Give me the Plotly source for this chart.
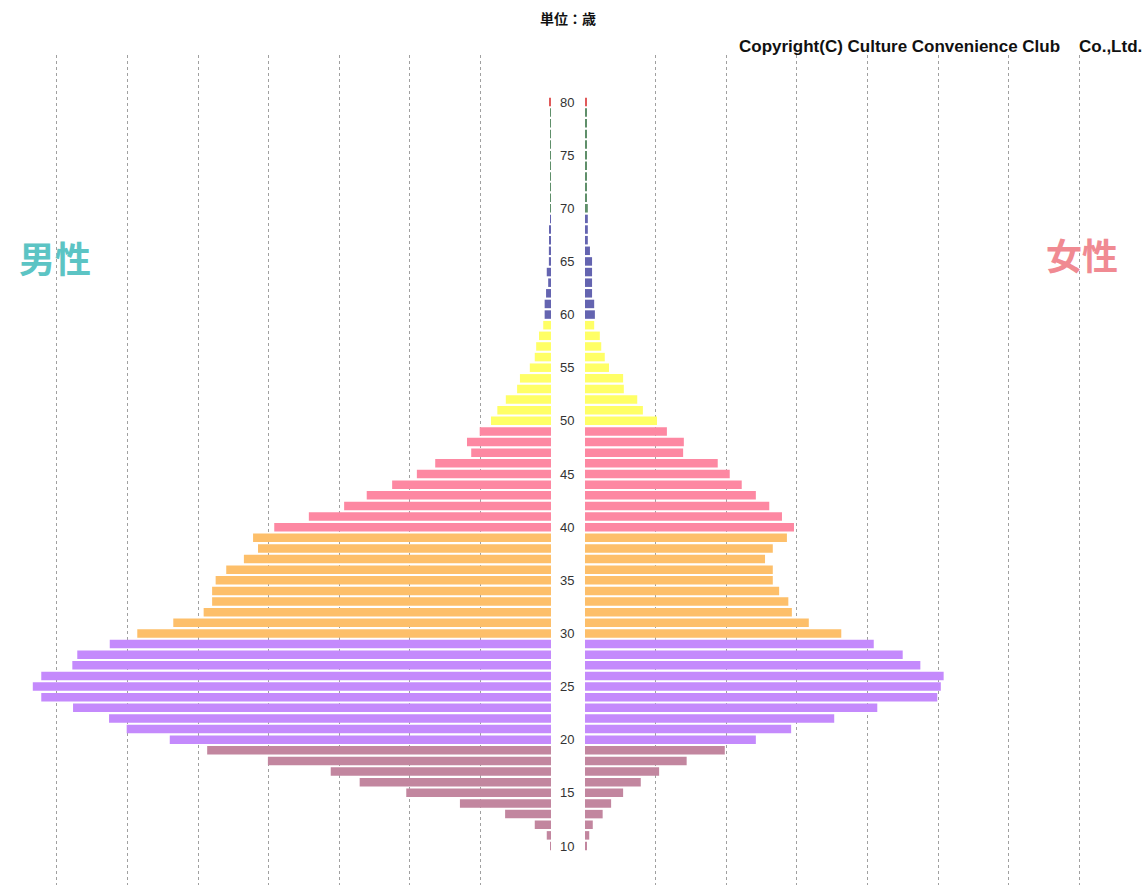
import plotly.graph_objects as go

# ---- data (units: grid step = 10) ----
ages = list(range(10, 81))
male = [0.1, 0.6, 2.3, 6.5, 12.9, 20.5, 27.1, 31.2, 40.1, 48.7,
        54.0, 60.1, 62.6, 67.7, 72.2, 73.4, 72.2, 67.8, 67.1, 62.5,
        58.6, 53.5, 49.2, 48.0, 48.0, 47.5, 46.0, 43.5, 41.5, 42.2,
        39.2, 34.3, 29.3, 26.1, 22.5, 19.0, 16.4, 11.3, 11.9, 10.1,
        8.5, 7.6, 6.4, 4.8, 4.4, 3.0, 2.3, 2.1, 1.7, 1.1,
        0.9, 0.9, 0.7, 0.4, 0.6, 0.3, 0.3, 0.15, 0.15, 0.1,
        0.05, 0.05, 0.05, 0.05, 0.05, 0.05, 0.05, 0.05, 0.05, 0.05,
        0.15]
female = [0.15, 0.6, 1.1, 2.5, 3.7, 5.4, 7.9, 10.5, 14.4, 19.8,
          24.2, 29.2, 35.3, 41.4, 49.9, 50.4, 50.8, 47.5, 45.0, 40.9,
          36.3, 31.7, 29.3, 28.8, 27.5, 26.6, 26.6, 25.5, 26.6, 28.6,
          29.6, 27.9, 26.1, 24.2, 22.2, 20.5, 18.8, 13.9, 14.0, 11.6,
          10.2, 8.2, 7.4, 5.5, 5.4, 3.4, 2.8, 2.3, 2.1, 1.3,
          1.4, 1.3, 1.0, 1.0, 1.0, 1.0, 0.7, 0.4, 0.4, 0.4,
          0.4, 0.15, 0.15, 0.15, 0.15, 0.15, 0.15, 0.15, 0.15, 0.15,
          0.15]
age_ticks = list(range(10, 81, 5))

title_text = "単位：歳"
copyright_text = "Copyright(C) Culture Convenience Club\u00a0\u00a0\u00a0\u00a0Co.,Ltd."
male_label = "男性"
female_label = "女性"

# ---- style ----
decade_colors = {1: "#c2869f", 2: "#c48afc", 3: "#fdbf6a", 4: "#fd88a2",
                 5: "#ffff66", 6: "#6464b0", 7: "#5f8f6a", 8: "#e05a5a"}
colors = [decade_colors[a // 10] for a in ages]

W, H = 1148, 885
left_end_px, right_start_px = 551, 585
px_per_unit = 7.06

fig = go.Figure()
fig.add_trace(go.Bar(y=ages, x=male, orientation="h", xaxis="x", yaxis="y",
                     marker=dict(color=colors, line=dict(width=0)),
                     showlegend=False, hoverinfo="x+y"))
fig.add_trace(go.Bar(y=ages, x=female, orientation="h", xaxis="x2", yaxis="y",
                     marker=dict(color=colors, line=dict(width=0)),
                     showlegend=False, hoverinfo="x+y"))

grid = dict(showgrid=True, gridcolor="#a0a0a0", griddash="3px,3px", gridwidth=1,
            zeroline=False, showticklabels=False, ticks="", showline=False,
            dtick=10, tick0=0)

top_px = 55
ppa = 10.63  # pixels per age year
y_top = 80 + (102 - top_px) / ppa
y_bot = 10 - (H - 846) / ppa

fig.update_layout(
    width=W, height=H,
    margin=dict(l=0, r=0, t=top_px, b=0),
    paper_bgcolor="white", plot_bgcolor="white",
    bargap=0.2,
    xaxis=dict(domain=[0, left_end_px / W], range=[left_end_px / px_per_unit, 0], **grid),
    xaxis2=dict(domain=[right_start_px / W, 1], range=[0, (W - right_start_px) / px_per_unit], **grid),
    yaxis=dict(range=[y_bot, y_top], anchor="x", side="right", showgrid=False,
               zeroline=False, tickmode="array", tickvals=age_ticks,
               ticktext=[str(a) for a in age_ticks], ticks="", showline=False,
               ticklabelstandoff=8,
               tickfont=dict(family="Liberation Sans, Arial", size=13, color="#333333")),
    font=dict(family="Liberation Sans, Arial"),
)

fig.add_annotation(text=title_text, xref="paper", yref="paper",
                   x=568 / W, y=1 + (top_px - 18) / (H - top_px), xanchor="center", yanchor="middle",
                   showarrow=False,
                   font=dict(family="Noto Sans CJK JP", size=14, color="#111111", weight="bold"))
fig.add_annotation(text=copyright_text, xref="paper", yref="paper",
                   x=1144 / W, y=1 + (top_px - 47) / (H - top_px), xanchor="right", yanchor="middle",
                   showarrow=False,
                   font=dict(family="Liberation Sans, Arial", size=17,
                             color="#111111", weight="bold"))
fig.add_annotation(text=male_label, xref="paper", yref="paper",
                   x=55 / W, y=1 - (257 - top_px) / (H - top_px), xanchor="center", yanchor="middle",
                   showarrow=False,
                   font=dict(family="Noto Sans CJK JP", size=36, color="#5cc4c4", weight="bold"))
fig.add_annotation(text=female_label, xref="paper", yref="paper",
                   x=1082 / W, y=1 - (254 - top_px) / (H - top_px), xanchor="center", yanchor="middle",
                   showarrow=False,
                   font=dict(family="Noto Sans CJK JP", size=36, color="#f08a92", weight="bold"))

fig.write_html("out.html", config={"displayModeBar": False},
               post_script="document.body.style.margin='0';")
